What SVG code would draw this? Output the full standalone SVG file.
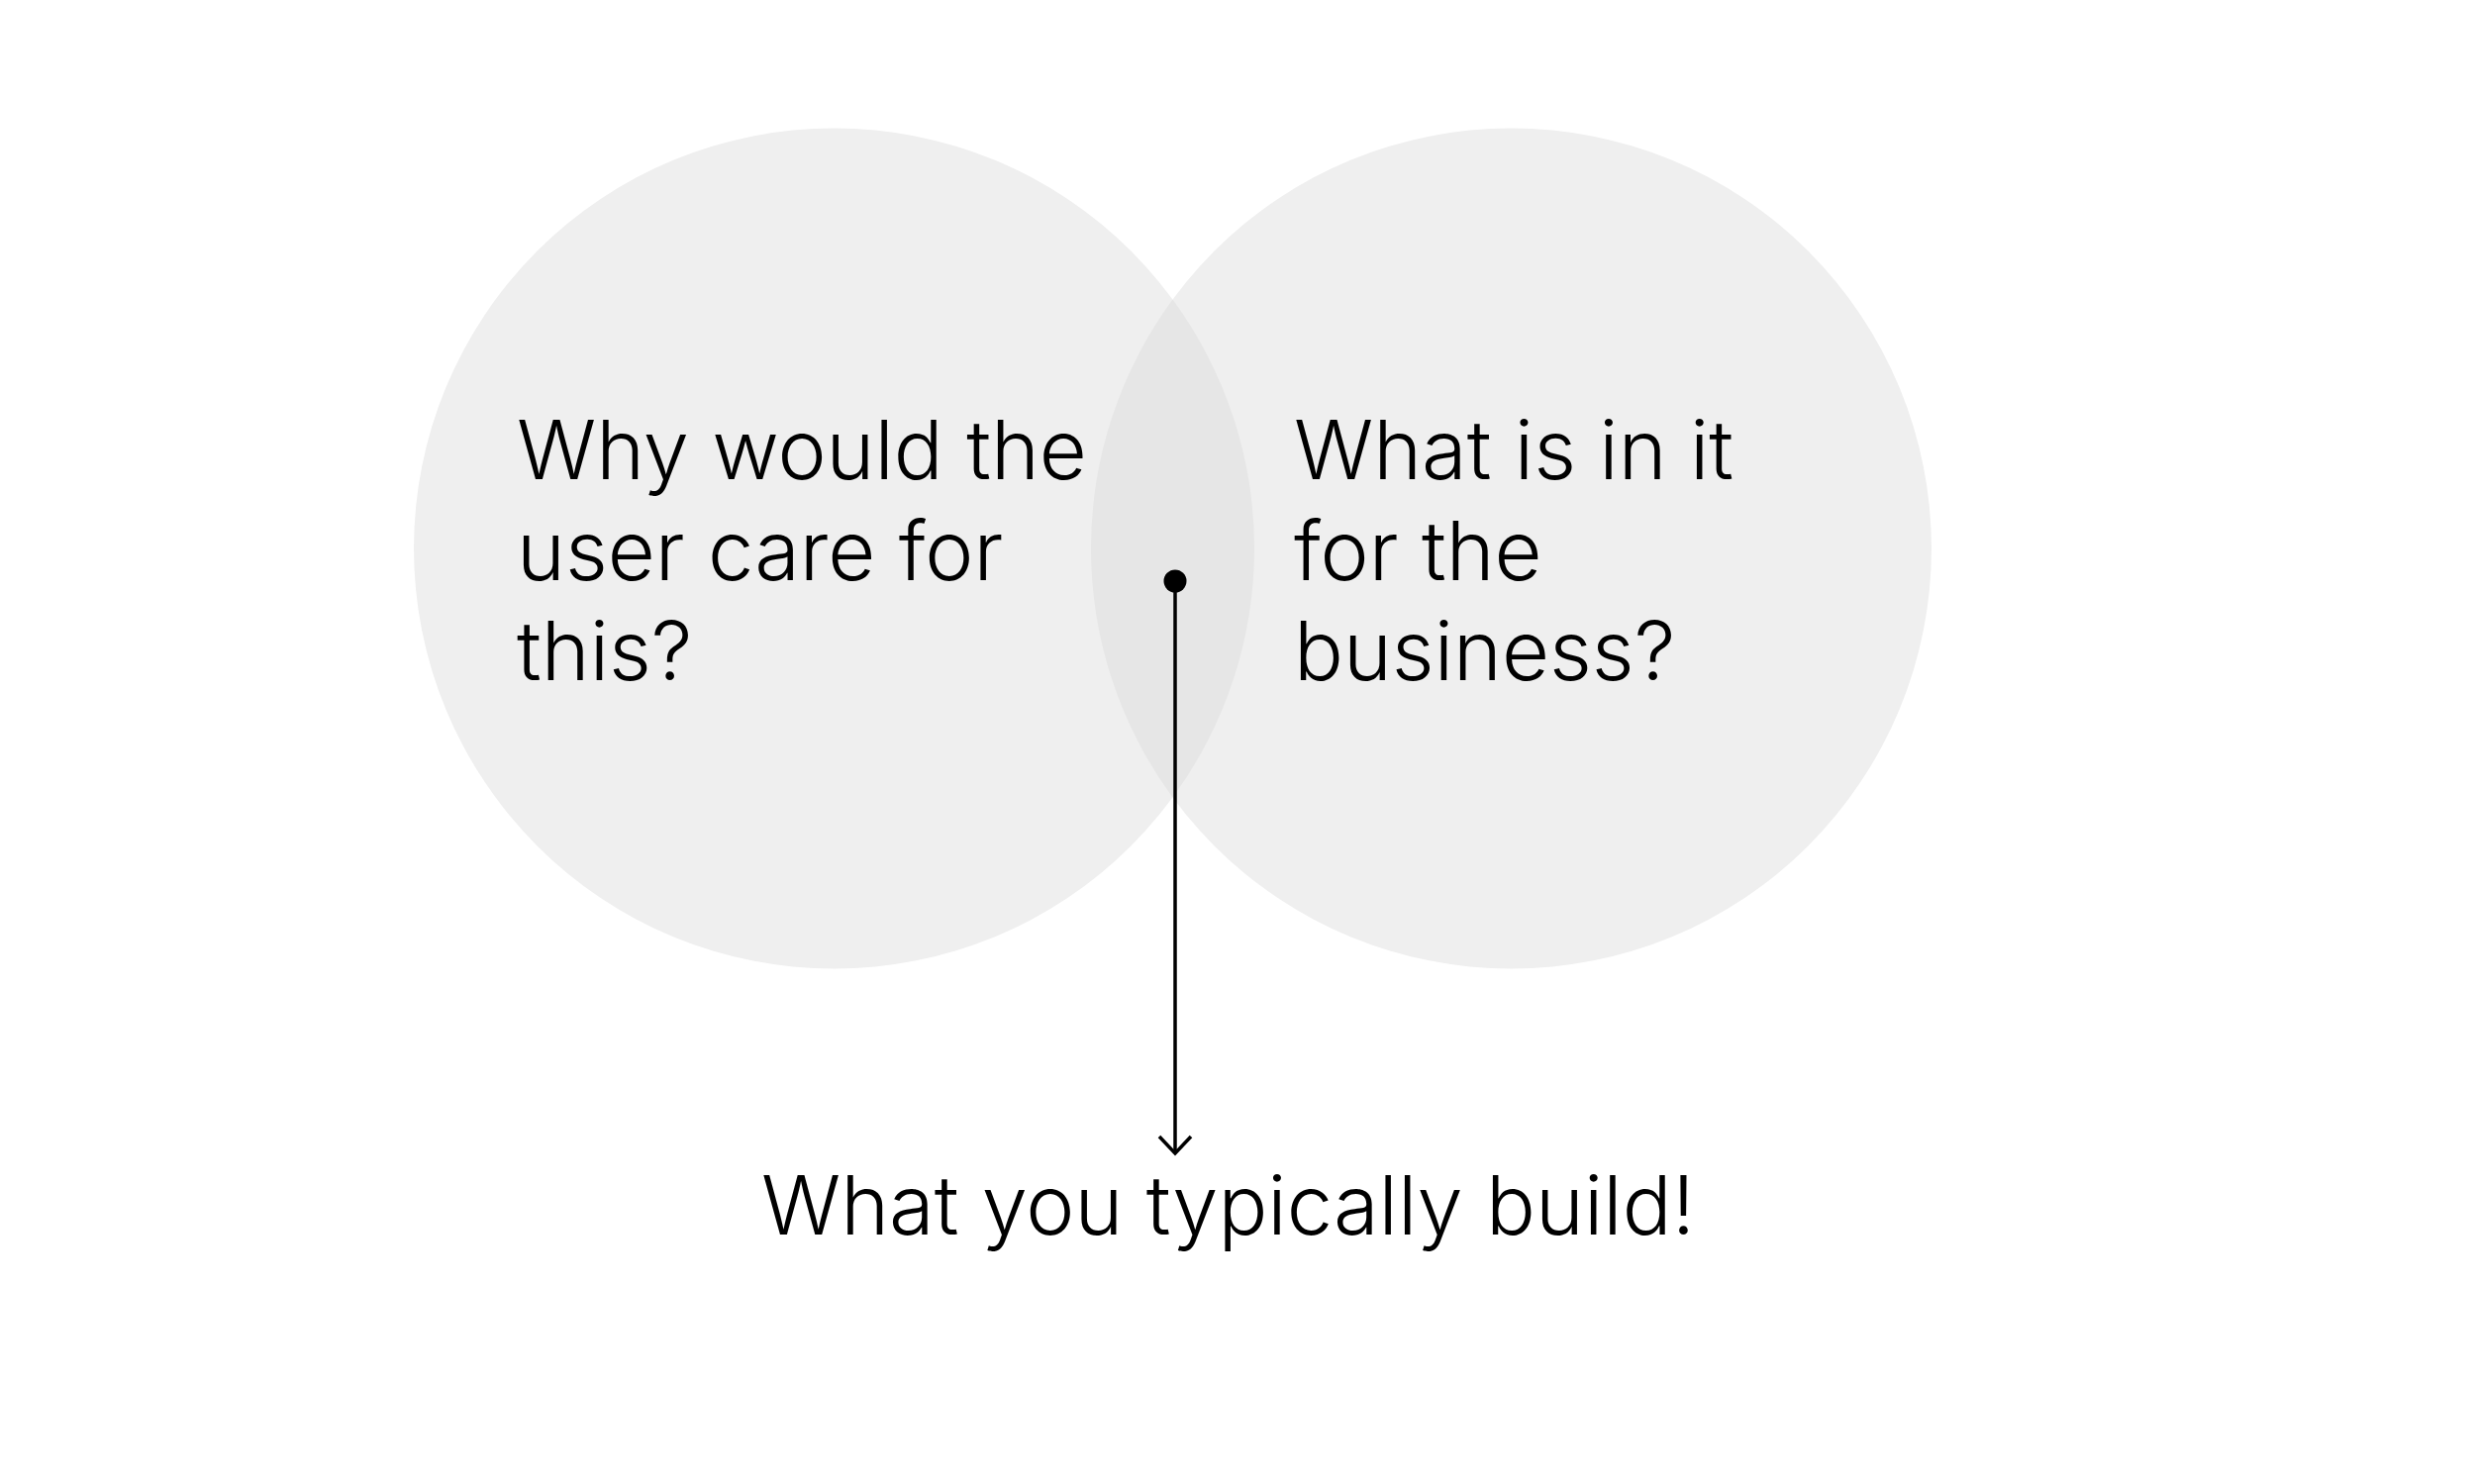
<svg xmlns="http://www.w3.org/2000/svg" width="2500" height="1499" viewBox="0 0 2500 1499">
<defs>
<style>
.circle{fill:#efefef;}
.lens{fill:#e6e6e6;}
.label{font-family:Inter,"Liberation Sans",sans-serif;font-size:83px;font-weight:300;fill:#000;}
.conn{stroke:#000;stroke-width:3.5;fill:none;}
</style>
</defs>
<rect width="2500" height="1499" fill="#ffffff"/>
<g id="user-circle">
<circle class="circle" cx="842.5" cy="554" r="424.5"/>
<text class="label" x="522" y="484">Why would the</text>
<text class="label" x="522" y="585.5">user care for</text>
<text class="label" x="522" y="687">this?</text>
</g>
<g id="business-circle">
<circle class="circle" cx="1526.5" cy="554" r="424.5"/>
<text class="label" x="1307" y="484">What is in it</text>
<text class="label" x="1307" y="585.5">for the</text>
<text class="label" x="1307" y="687">business?</text>
</g>
<g id="overlap">
<path class="lens" d="M1184.5 302.5 A424.5 424.5 0 0 1 1184.5 805.5 A424.5 424.5 0 0 1 1184.5 302.5 Z"/>
</g>
<g id="result">
<text class="label" x="769" y="1247">What you typically build!</text>
</g>
<g id="connectors">
<circle cx="1187" cy="587" r="11.5" fill="#000"/>
<line class="conn" x1="1187" y1="587" x2="1187" y2="1165"/>
<path class="conn" d="M1171 1148 L1187 1165 L1203 1148"/>
</g>
</svg>
